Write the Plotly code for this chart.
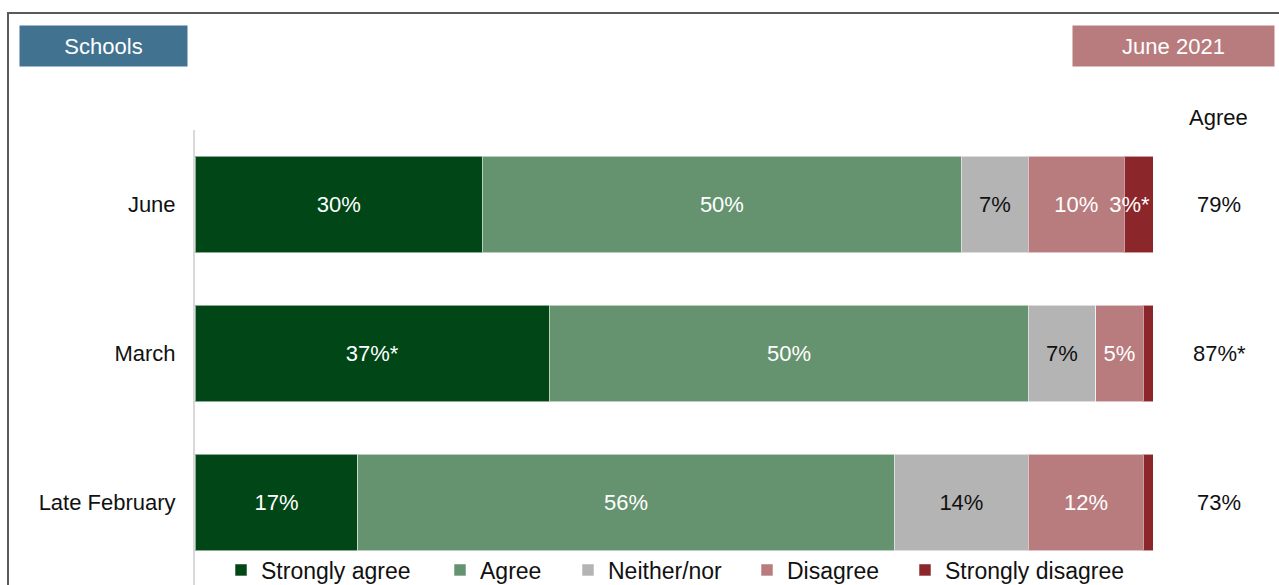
import plotly.graph_objects as go

categories = ["June", "March", "Late February"]
series_names = ["Strongly agree", "Agree", "Neither/nor", "Disagree", "Strongly disagree"]
strongly_agree = [30, 37, 17]
agree = [50, 50, 56]
neither = [7, 7, 14]
disagree = [10, 5, 12]
strongly_disagree = [3, 1, 1]
significant = [
    ["", "*", ""],
    ["", "", ""],
    ["", "", ""],
    ["", "", ""],
    ["*", "", ""],
]
show_label = [
    [True, True, True],
    [True, True, True],
    [True, True, True],
    [True, True, True],
    [True, False, False],
]
agree_totals = ["79%", "87%*", "73%"]
colors = ["#004616", "#66936f", "#b4b4b4", "#b97c7e", "#8b262b"]
text_colors = ["white", "white", "#111111", "white", "white"]
text_anchors = ["middle", "middle", "middle", "middle", "end"]
legend_x_px = [221, 440, 568, 747, 905]

FONT = "Liberation Sans, Arial, sans-serif"
W, H = 1279, 585
ML, MR, MT, MB = 195, 126, 130, 0
PW = W - ML - MR
PH = H - MT - MB

def px_x(px):
    return (px - ML) / PW

def px_y(py):
    return (H - MB - py) / PH

fig = go.Figure()
all_values = [strongly_agree, agree, neither, disagree, strongly_disagree]
for i, (name, vals) in enumerate(zip(series_names, all_values)):
    texts = [
        (f"{v}%{significant[i][j]}" if show_label[i][j] else "")
        for j, v in enumerate(vals)
    ]
    lg = "legend" if i == 0 else f"legend{i+1}"
    fig.add_trace(go.Bar(
        name=name,
        y=categories,
        x=vals,
        orientation="h",
        marker=dict(color=colors[i], line=dict(color="rgba(255,255,255,0.55)", width=1)),
        text=texts,
        textposition="inside",
        insidetextanchor=text_anchors[i],
        textangle=0,
        cliponaxis=False,
        textfont=dict(color=text_colors[i], size=22, family=FONT),
        hoverinfo="skip",
        legend=lg,
    ))

layout_legends = {}
for i in range(5):
    key = "legend" if i == 0 else f"legend{i+1}"
    layout_legends[key] = dict(
        orientation="h",
        x=px_x(legend_x_px[i]),
        xanchor="left",
        y=px_y(570),
        yanchor="middle",
        bgcolor="rgba(0,0,0,0)",
        borderwidth=0,
        font=dict(size=23, family=FONT, color="#111111"),
    )

annotations = [
    dict(text="Schools", x=px_x(103.5), y=px_y(46), xref="paper", yref="paper",
         showarrow=False, width=167, height=40, bgcolor="#417391", borderpad=0,
         font=dict(color="white", size=22, family=FONT), xanchor="center", yanchor="middle"),
    dict(text="June 2021", x=px_x(1173.5), y=px_y(46), xref="paper", yref="paper",
         showarrow=False, width=201, height=40, bgcolor="#b97c7e", borderpad=0,
         font=dict(color="white", size=22, family=FONT), xanchor="center", yanchor="middle"),
    dict(text="Agree", x=px_x(1218), y=px_y(117), xref="paper", yref="paper",
         showarrow=False, font=dict(color="#111111", size=22, family=FONT),
         xanchor="center", yanchor="middle"),
]
for cat, tot in zip(categories, agree_totals):
    annotations.append(dict(text=tot, x=px_x(1219), y=cat, xref="paper", yref="y",
                            showarrow=False, font=dict(color="#111111", size=22, family=FONT),
                            xanchor="center", yanchor="middle"))

fig.update_layout(
    width=W, height=H,
    margin=dict(l=ML, r=MR, t=MT, b=MB, autoexpand=False),
    barmode="stack",
    bargap=0.35,
    plot_bgcolor="white",
    paper_bgcolor="white",
    font=dict(family=FONT, size=22, color="#111111"),
    uniformtext=dict(minsize=22, mode="show"),
    showlegend=True,
    annotations=annotations,
    shapes=[dict(type="rect", xref="paper", yref="paper",
                 x0=px_x(8), x1=px_x(1290), y0=px_y(600), y1=px_y(13),
                 line=dict(color="#5a5a5a", width=2), fillcolor="rgba(0,0,0,0)", layer="below")],
    **layout_legends,
)
fig.update_xaxes(range=[0, 100], visible=False, fixedrange=True)
fig.update_yaxes(
    categoryorder="array", categoryarray=categories,
    range=[2.5 + 8 / 149, -0.5],
    showline=True, linecolor="#d9d9d9", linewidth=2,
    showgrid=False, zeroline=False, ticks="",
    ticklabelstandoff=13,
    tickfont=dict(size=22, family=FONT, color="#111111"),
    fixedrange=True,
)

fig.write_html("out.html", config={"displayModeBar": False})
